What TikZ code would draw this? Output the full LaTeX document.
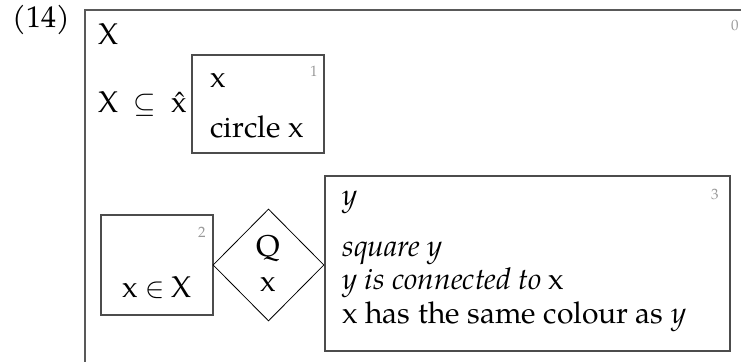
\documentclass[tikz,border=0pt]{standalone}
\usepackage{fontspec}
\setmainfont{TeX Gyre Pagella}
\usetikzlibrary{shapes.geometric}
\newcommand{\drsfont}{\fontsize{15pt}{18pt}\selectfont}

\begin{document}
\begin{tikzpicture}[x=0.5pt,y=-0.5pt,
  drsbox/.style={draw=black!70, line width=0.6pt, inner sep=0pt},
  drsmark/.style={anchor=north east, inner sep=0pt, text=black!40, font=\fontsize{7.5pt}{8pt}\selectfont},
  drsline/.style={anchor=base west, inner sep=0pt, font=\drsfont},
  drsmid/.style={anchor=base, inner sep=0pt, font=\drsfont}]
\useasboundingbox (0,0) rectangle (741,362);
% example number and outer box
\node[drsline] (exnum) at (12,28) {(14)};
\draw[draw=black!65, line width=0.75pt] (85,366) -- (85,10) -- (745,10);
\node[drsmark] (mark0) at (739,20) {0};
\node[drsline] (univ0) at (98,45) {X};
\node[drsline] (cond0) at (98,113) {X~$\;\subseteq\;$~\^x};
% box 1
\node[drsbox, minimum width=66pt, minimum height=49pt] (box1) at (258,104) {};
\node[drsmark] (mark1) at (318,66) {1};
\node[drsline] (univ1) at (210,88) {x};
\node[drsline] (cond1) at (210,138) {circle x};
% box 2
\node[drsbox, minimum width=56pt, minimum height=50pt] (box2) at (157,265) {};
\node[drsmark] (mark2) at (206,227) {2};
\node[drsmid] (cond2) at (157,298) {x $\in$ X};
% quantifier
\node[diamond, draw, line width=0.4pt, inner sep=0pt, minimum width=55.5pt, minimum height=56pt] (quant) at (268.5,265) {};
\node[drsmid] (qname) at (268.5,257) {Q};
\node[drsmid] (qvar) at (268.5,292) {x};
% box 3
\node[drsbox, minimum width=202.5pt, minimum height=87.5pt] (box3) at (527.5,263.5) {};
\node[drsmark] (mark3) at (719,189) {3};
\node[drsline] (univ3) at (342,206) {\itshape y};
\node[drsline] (cond3a) at (342,257) {\itshape square y};
\node[drsline] (cond3b) at (342,290) {\itshape y is connected to \upshape x};
\node[drsline] (cond3c) at (342,324) {x has the same colour as \textit{y}};
\end{tikzpicture}
\end{document}
